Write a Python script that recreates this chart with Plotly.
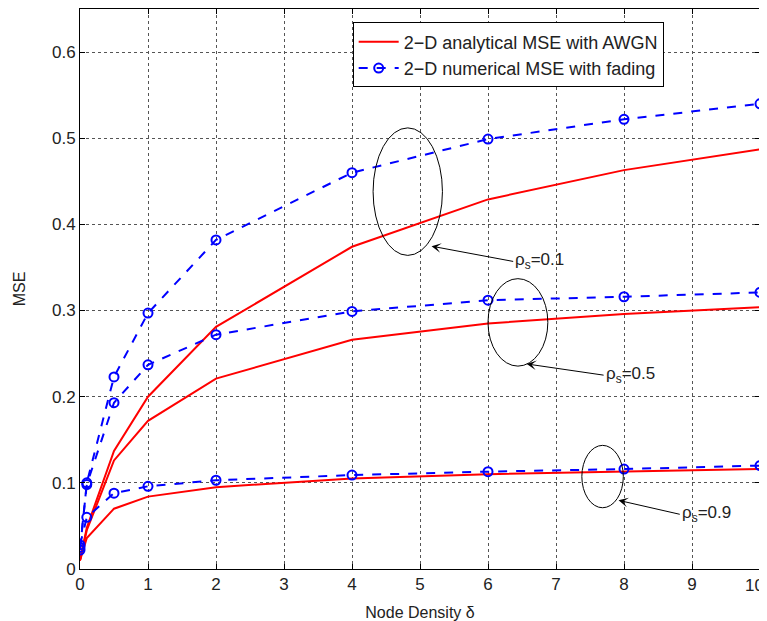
import plotly.graph_objects as go

x_vals = [0, 0.1, 0.5, 1, 2, 4, 6, 8, 10]

# analytical MSE with AWGN (red)
awgn_rho01 = [0.010, 0.048, 0.137, 0.200, 0.281, 0.374, 0.429, 0.463, 0.487]
awgn_rho05 = [0.010, 0.045, 0.126, 0.172, 0.221, 0.266, 0.285, 0.296, 0.304]
awgn_rho09 = [0.010, 0.036, 0.070, 0.084, 0.095, 0.105, 0.110, 0.113, 0.116]

# numerical MSE with fading (blue)
fad_rho01 = [0.022, 0.100, 0.223, 0.297, 0.382, 0.460, 0.499, 0.522, 0.540]
fad_rho05 = [0.025, 0.098, 0.193, 0.237, 0.272, 0.299, 0.312, 0.316, 0.321]
fad_rho09 = [0.028, 0.060, 0.088, 0.096, 0.103, 0.109, 0.113, 0.116, 0.120]

x_ticks = [0, 1, 2, 3, 4, 5, 6, 7, 8, 9, 10]
x_tick_text = ["0", "1", "2", "3", "4", "5", "6", "7", "8", "9", "10"]
y_ticks = [0, 0.1, 0.2, 0.3, 0.4, 0.5, 0.6]
y_tick_text = ["0", "0.1", "0.2", "0.3", "0.4", "0.5", "0.6"]

rho_labels = ["\u03c1<sub>s</sub>=0.1", "\u03c1<sub>s</sub>=0.5", "\u03c1<sub>s</sub>=0.9"]

name_awgn = "2\u2212D analytical MSE with AWGN"
name_fad = "2\u2212D numerical MSE with fading"

FONT = "Liberation Sans, Arial, Helvetica, sans-serif"
TXT = "#222222"

fig = go.Figure()
for i, ys in enumerate([awgn_rho01, awgn_rho05, awgn_rho09]):
    fig.add_trace(go.Scatter(
        x=x_vals, y=ys, mode="lines", name=name_awgn,
        line=dict(color="#ff0000", width=2),
        showlegend=(i == 0), legendgroup="awgn"))
for i, ys in enumerate([fad_rho01, fad_rho05, fad_rho09]):
    fig.add_trace(go.Scatter(
        x=x_vals, y=ys, mode="lines+markers", name=name_fad,
        line=dict(color="#0000ff", width=2, dash="dash"),
        marker=dict(symbol="circle-open", size=9, color="#0000ff",
                    line=dict(width=2, color="#0000ff")),
        showlegend=(i == 0), legendgroup="fad"))

# ellipses
ellipses = [
    (4.31, 0.364, 5.33, 0.512),
    (6.00, 0.2355, 6.88, 0.337),
    (7.38, 0.0711, 7.99, 0.1435),
]
for (x0, y0, x1, y1) in ellipses:
    fig.add_shape(type="circle", xref="x", yref="y", x0=x0, y0=y0, x1=x1, y1=y1,
                  line=dict(color="black", width=1))

# arrows with labels at their tails
arrows = [
    ((5.17, 0.3747), (6.37, 0.357)),
    ((6.57, 0.238), (7.70, 0.225)),
    ((7.92, 0.0797), (8.82, 0.0635)),
]
for ((hx, hy), (tx, ty)), label in zip(arrows, rho_labels):
    fig.add_annotation(x=hx, y=hy, ax=tx, ay=ty, xref="x", yref="y",
                       axref="x", ayref="y", text=label, showarrow=True,
                       xanchor="left", yanchor="middle",
                       arrowhead=3, arrowsize=1.6, arrowwidth=1, arrowcolor="black",
                       font=dict(family=FONT, size=17, color=TXT))

# last x tick label sits at the right edge of the page: draw it right-aligned so it stays visible
fig.add_annotation(x=x_ticks[-1], y=0, xref="x", yref="paper", text=x_tick_text[-1],
                   showarrow=False, xanchor="right", yanchor="top",
                   xshift=6, yshift=-5, font=dict(family=FONT, size=17, color=TXT))

# the page body adds an 8px offset, so the figure is sized to fill the rest
fig.update_layout(
    width=759, height=613,
    margin=dict(l=72, r=7, t=1, b=52, autoexpand=False),
    paper_bgcolor="white", plot_bgcolor="white",
    font=dict(family=FONT, size=16, color=TXT),
    legend=dict(x=0.401, y=0.976, xanchor="left", yanchor="top",
                bgcolor="white", bordercolor="black", borderwidth=1,
                font=dict(family=FONT, size=18, color=TXT),
                tracegroupgap=0, itemwidth=40),
)
fig.update_xaxes(
    range=[0, 10], tickmode="array", tickvals=x_ticks,
    ticktext=x_tick_text[:-1] + [""],
    ticks="inside", ticklen=5, tickcolor="black",
    showline=True, linecolor="black", linewidth=1, mirror="allticks",
    showgrid=True, gridcolor="#555555", griddash="dot", gridwidth=1,
    zeroline=False, automargin=False,
    tickfont=dict(size=17),
    title=dict(text="Node Density \u03b4", font=dict(size=16), standoff=14),
)
fig.update_yaxes(
    range=[0, 0.65], tickmode="array", tickvals=y_ticks, ticktext=y_tick_text,
    ticks="inside", ticklen=5, tickcolor="black",
    showline=True, linecolor="black", linewidth=1, mirror="allticks",
    showgrid=True, gridcolor="#555555", griddash="dot", gridwidth=1,
    zeroline=False, automargin=False,
    tickfont=dict(size=17),
    title=dict(text="MSE", font=dict(size=16), standoff=22),
)

fig.write_html("out.html")
